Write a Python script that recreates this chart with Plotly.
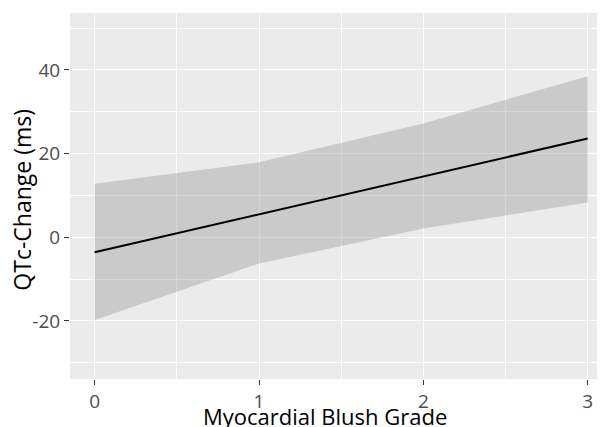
import plotly.graph_objects as go

mbg = [0, 1, 2, 3]
fit = [-3.6, 5.5, 14.6, 23.6]
upper = [12.8, 17.9, 27.2, 38.5]
lower = [-19.8, -6.3, 2.1, 8.3]
x_ticks = [0, 1, 2, 3]
y_ticks = [-20, 0, 20, 40]
y_ticklabels = ["-20", "0", "20", "40"]
x_title = "Myocardial Blush Grade"
y_title = "QTc-Change (ms)"

fig = go.Figure()
fig.add_trace(go.Scatter(x=mbg + mbg[::-1], y=upper + lower[::-1], fill="toself",
                         fillcolor="rgba(153,153,153,0.4)", line=dict(width=0),
                         mode="lines", hoverinfo="skip", showlegend=False))
fig.add_trace(go.Scatter(x=mbg, y=fit, mode="lines", line=dict(color="black", width=2),
                         showlegend=False))

FONT = "Open Sans, sans-serif"
axis_common = dict(showgrid=True, gridcolor="white", gridwidth=1.4, zeroline=False,
                   ticks="outside", ticklen=5, tickwidth=1.4, tickcolor="#333333",
                   tickfont=dict(family=FONT, size=19, color="#4D4D4D"),
                   showline=False, automargin=False)

fig.update_layout(
    width=597, height=419,
    margin=dict(l=62, r=0, t=5, b=48),
    paper_bgcolor="white", plot_bgcolor="#EBEBEB",
    xaxis=dict(range=[-0.15, 3.105], tickvals=x_ticks,
               minor=dict(dtick=0.5, tick0=0.5, showgrid=True, gridcolor="white", gridwidth=0.7, ticks=""),
               **axis_common),
    yaxis=dict(range=[-33.9, 53.6], tickvals=y_ticks, ticktext=y_ticklabels,
               minor=dict(dtick=10, tick0=-30, showgrid=True, gridcolor="white", gridwidth=0.7, ticks=""),
               **axis_common),
    annotations=[
        dict(text=x_title, xref="paper", yref="paper", x=0.4766, y=0, yshift=-37,
             xanchor="center", yanchor="middle", showarrow=False,
             font=dict(family=FONT, size=22, color="black")),
        dict(text=y_title, xref="paper", yref="paper", x=0, y=0.49, xshift=-48,
             xanchor="center", yanchor="middle", textangle=-90, showarrow=False,
             font=dict(family=FONT, size=23, color="black")),
    ],
)

fig.write_html("out.html")
